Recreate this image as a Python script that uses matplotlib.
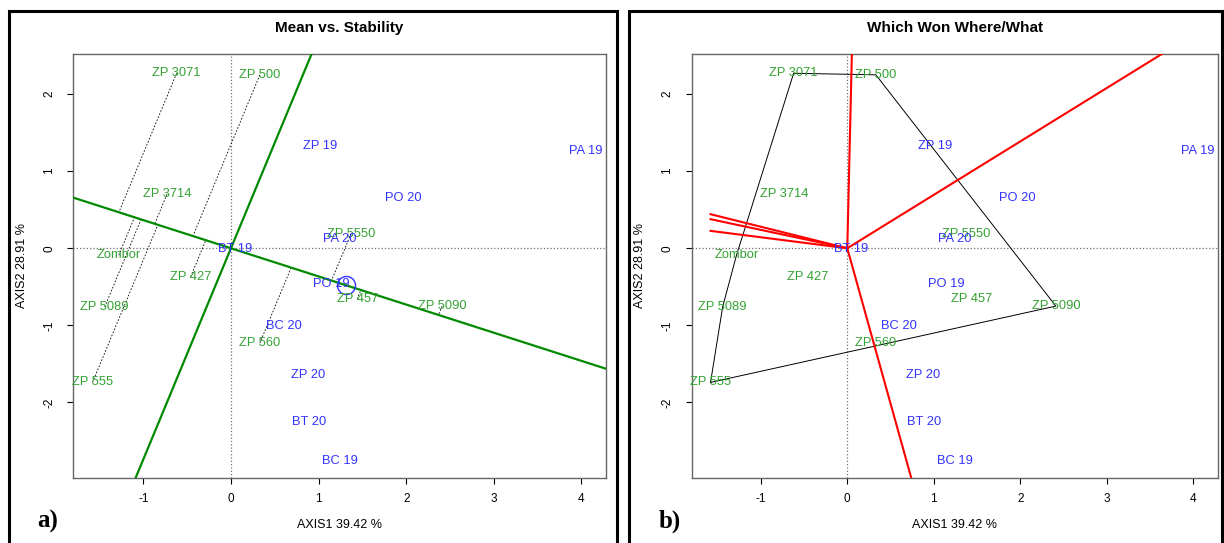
import matplotlib.pyplot as plt
import matplotlib.patches as mpatches
import numpy as np

plt.rcParams['font.family'] = ['Liberation Sans', 'DejaVu Sans']
plt.rcParams['axes.unicode_minus'] = False

# genotypes (green) and environments (blue), biplot coordinates
gen_names = ['ZP 3071', 'ZP 500', 'ZP 3714', 'Zombor', 'ZP 427', 'ZP 5089',
             'ZP 555', 'ZP 560', 'ZP 5550', 'ZP 457', 'ZP 5090']
gen_x = [-0.62, 0.33, -0.73, -1.28, -0.46, -1.44, -1.58, 0.33, 1.37, 1.44, 2.41]
gen_y = [2.27, 2.25, 0.70, -0.09, -0.37, -0.76, -1.74, -1.23, 0.19, -0.66, -0.75]

env_names = ['ZP 19', 'PA 19', 'PO 20', 'PA 20', 'BT 19', 'PO 19', 'BC 20',
             'ZP 20', 'BT 20', 'BC 19']
env_x = [1.02, 4.05, 1.97, 1.24, 0.05, 1.15, 0.60, 0.88, 0.89, 1.24]
env_y = [1.33, 1.26, 0.65, 0.12, -0.01, -0.46, -1.01, -1.64, -2.26, -2.76]

xlab = 'AXIS1 39.42 %'
ylab = 'AXIS2 28.91 %'

GREEN_TXT = '#33a233'
BLUE_TXT = '#3333ff'
W, H = 1224, 543


def setup(ax, title):
    ax.set_xlim(-1.80, 4.28)
    ax.set_ylim(-2.98, 2.52)
    ax.set_xticks([-1, 0, 1, 2, 3, 4])
    ax.set_yticks([-2, -1, 0, 1, 2])
    ax.set_yticklabels(['-2', '-1', '0', '1', '2'], rotation=90, va='center')
    ax.tick_params(direction='out', length=4, width=0.8, labelsize=8.5, pad=7)
    ax.tick_params(axis='y', pad=9)
    for s in ax.spines.values():
        s.set_color('#666666')
        s.set_linewidth(1.0)
    ax.axhline(0, color='#707070', ls=':', lw=0.9, zorder=1)
    ax.axvline(0, color='#707070', ls=':', lw=0.9, zorder=1)
    ax.text(0.5, 1.062, title, transform=ax.transAxes, ha='center', va='center',
            fontsize=11, fontweight='bold')
    ax.text(0.5, -0.112, xlab, transform=ax.transAxes, ha='center', va='center', fontsize=9)
    ax.text(-0.097, 0.5, ylab, transform=ax.transAxes, ha='center', va='center',
            fontsize=9, rotation=90)


def labels(ax):
    for n, x, y in zip(gen_names, gen_x, gen_y):
        ax.text(x, y, n, color=GREEN_TXT, fontsize=9.3, ha='center', va='center', zorder=5)
    for n, x, y in zip(env_names, env_x, env_y):
        ax.text(x, y, n, color=BLUE_TXT, fontsize=9.3, ha='center', va='center', zorder=5)


def convex_hull(pts):
    pts = sorted(pts)

    def cross(o, a, b):
        return (a[0] - o[0]) * (b[1] - o[1]) - (a[1] - o[1]) * (b[0] - o[0])
    lower, upper = [], []
    for p in pts:
        while len(lower) >= 2 and cross(lower[-2], lower[-1], p) <= 0:
            lower.pop()
        lower.append(p)
    for p in reversed(pts):
        while len(upper) >= 2 and cross(upper[-2], upper[-1], p) <= 0:
            upper.pop()
        upper.append(p)
    return lower[:-1] + upper[:-1]


fig = plt.figure(figsize=(W / 100, H / 100), dpi=100)
ax1 = fig.add_axes([73.2 / W, 1 - 478 / H, (606 - 73.2) / W, 424 / H])
ax2 = fig.add_axes([691.5 / W, 1 - 478 / H, (1217.7 - 691.5) / W, 424 / H])

# --- a) Mean vs. Stability ---
setup(ax1, 'Mean vs. Stability')
mx, my = np.mean(env_x), np.mean(env_y)
d = np.array([mx, my]) / np.hypot(mx, my)
ax1.axline((0, 0), (mx, my), color='#008a00', lw=1.6, zorder=3)
ax1.axline((0, 0), (-my, mx), color='#008a00', lw=1.6, zorder=3)
for gx, gy in zip(gen_x, gen_y):
    t = gx * d[0] + gy * d[1]
    ax1.plot([gx, t * d[0]], [gy, t * d[1]], color='black', ls=(0, (2, 2)), lw=0.6, zorder=2)
ax1.plot(mx, my, 'o', mfc='none', mec=BLUE_TXT, ms=13, mew=1.0, zorder=4)
labels(ax1)

# --- b) Which Won Where/What ---
setup(ax2, 'Which Won Where/What')
hull = convex_hull(list(zip(gen_x, gen_y)))
hx = [p[0] for p in hull] + [hull[0][0]]
hy = [p[1] for p in hull] + [hull[0][1]]
ax2.plot(hx, hy, color='black', lw=0.7, zorder=2)
xmin = min(gen_x)
for i in range(len(hull)):
    p, q = hull[i], hull[(i + 1) % len(hull)]
    nx, ny = q[1] - p[1], -(q[0] - p[0])
    nrm = np.hypot(nx, ny)
    nx, ny = nx / nrm, ny / nrm
    t = 10.0
    if nx < 0:
        t = min(t, xmin / nx)
    ax2.plot([0, t * nx], [0, t * ny], color='red', lw=1.5, zorder=3)
labels(ax2)

# panel frames and letters
fig.patches.append(mpatches.Rectangle((8.7 / W, -0.05), (617 - 8.7) / W, 1.05 - 11 / H,
                                      transform=fig.transFigure, fill=False, ec='black', lw=2.2))
fig.patches.append(mpatches.Rectangle((628.6 / W, -0.05), (1221.5 - 628.6) / W, 1.05 - 11 / H,
                                      transform=fig.transFigure, fill=False, ec='black', lw=2.2))
fig.text(47.5 / W, 1 - 521.7 / H, 'a)', family=['Liberation Serif'], fontweight='bold',
         fontsize=18, ha='center', va='center')
fig.text(669.4 / W, 1 - 521.7 / H, 'b)', family=['Liberation Serif'], fontweight='bold',
         fontsize=18, ha='center', va='center')

plt.savefig('out.png', dpi=100, facecolor='white')
